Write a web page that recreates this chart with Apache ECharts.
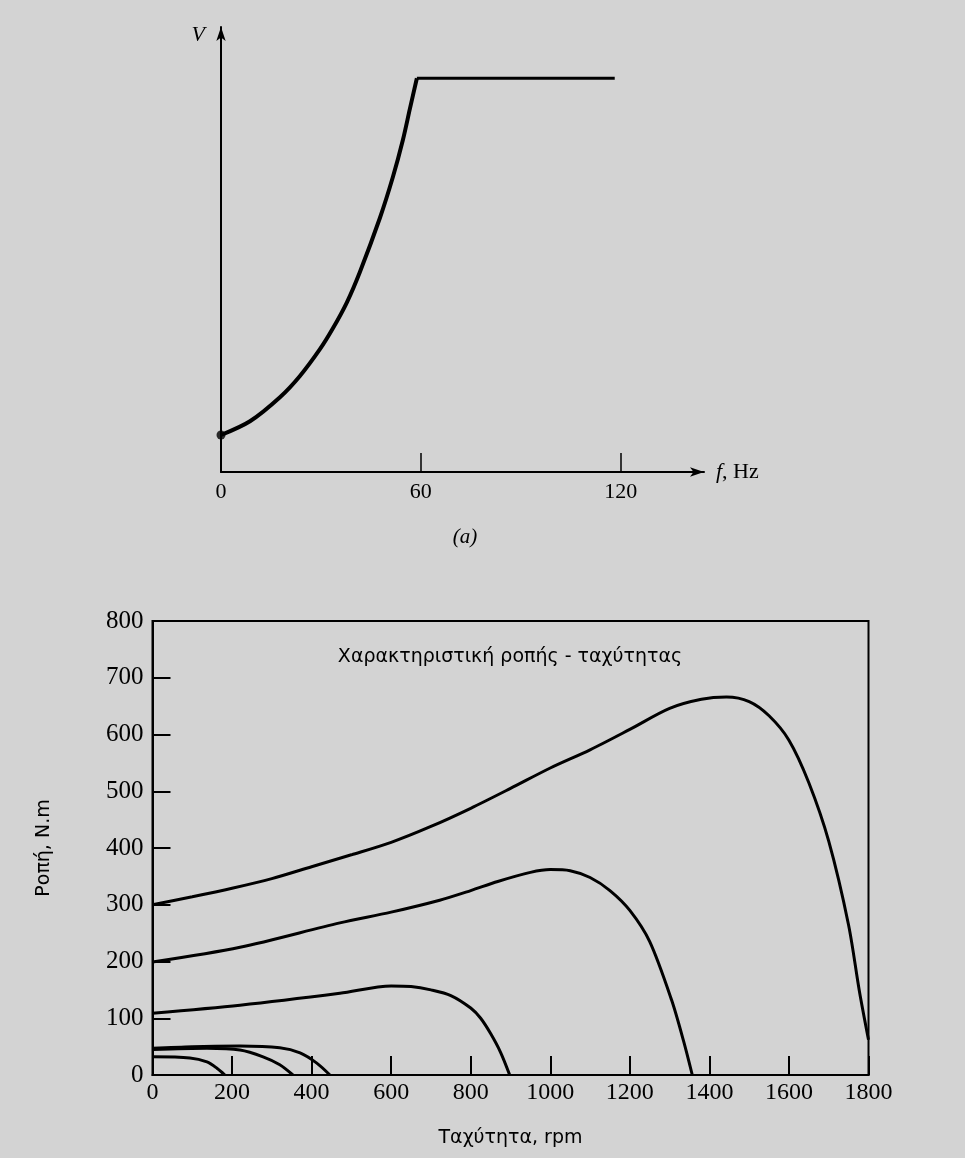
<!DOCTYPE html>
<html>
<head>
<meta charset="utf-8">
<script src="https://cdn.jsdelivr.net/npm/echarts@6/dist/echarts.min.js"></script>
<style>
html,body{margin:0;padding:0;background:#d3d3d3;}
#c{width:965px;height:1158px;}
</style>
</head>
<body>
<div id="c"></div>
<script>
// ---- (a) V/f characteristic ----
var vfFreq = [0, 8.7, 17.7, 23.7, 29.7, 33.6, 37.8, 41.7, 47.7, 51.6, 54.6, 56.7, 58.8, 118.2];
var vfVolt = [9.4, 12.9, 19.0, 24.4, 31.2, 36.5, 43.1, 50.8, 64.5, 74.9, 84.3, 92.2, 100, 100];
var vfTickLabels = [0, 60, 120];
var vfTickMarks = [60, 120];

// ---- torque-speed curves ----
var c1Speed = [0, 100, 200, 300, 400, 500, 600, 700, 800, 900, 1000, 1100, 1200, 1300, 1380, 1443, 1500, 1550, 1600, 1650, 1700, 1750, 1777, 1800];
var c1Torque = [300, 314, 329, 346, 367, 388, 410, 438, 470, 505, 541, 573, 609, 646, 662, 666, 658, 633, 590, 515, 412, 264, 148, 62];
var c2Speed = [0, 220, 471, 600, 722, 800, 868, 950, 1000, 1050, 1100, 1150, 1200, 1250, 1305, 1335, 1357];
var c2Torque = [199, 225, 268, 287, 308, 325, 341, 357, 362, 360, 348, 325, 290, 235, 132, 60, 0];
var c3Speed = [0, 220, 471, 600, 650, 700, 750, 800, 825, 850, 875, 898];
var c3Torque = [109, 123, 144, 157, 156, 150, 140, 118, 100, 73, 40, 0];
var c4Speed = [0, 100, 220, 320, 371, 413, 446];
var c4Torque = [47, 50, 51, 48, 39, 21, 0];
var c5Speed = [0, 137, 220, 278, 320, 353];
var c5Torque = [45, 47, 44, 32, 18, 0];
var c6Speed = [0, 94, 137, 162, 182];
var c6Torque = [32, 30, 23, 12, 0];

function zip(a, b) { return a.map(function (v, i) { return [v, b[i]]; }); }

var serif = 'Liberation Serif';
var sans = 'DejaVu Sans';
var vfPts = zip(vfFreq, vfVolt);
var knee = vfFreq.length - 2;
function plain(v) { return String(v); }

function tsSeries(s, t) {
  return {
    type: 'line', xAxisIndex: 1, yAxisIndex: 1, data: zip(s, t),
    smooth: 0.3, symbol: 'none',
    lineStyle: { color: '#000', width: 3 }, silent: true
  };
}

var chart = echarts.init(document.getElementById('c'), null, { renderer: 'canvas' });
chart.setOption({
  backgroundColor: '#d3d3d3',
  animation: false,
  grid: [
    { left: 221, top: 27, width: 483, height: 445 },
    { left: 152.5, top: 621, width: 716, height: 454, show: true, borderColor: '#000', borderWidth: 2, backgroundColor: 'transparent' }
  ],
  xAxis: [
    {
      gridIndex: 0, type: 'value', min: 0, max: 145,
      name: '{i|f}, Hz', nameLocation: 'end', nameGap: 12,
      nameTextStyle: { color: '#000', fontFamily: serif, fontSize: 22, verticalAlign: 'middle', align: 'left',
        rich: { i: { fontStyle: 'italic', fontFamily: serif, fontSize: 22, color: '#000' } } },
      axisLine: { show: true, symbol: ['none', 'arrow'], symbolSize: [7, 14], lineStyle: { color: '#000', width: 2 } },
      axisTick: { show: true, inside: true, length: 19, customValues: vfTickMarks, lineStyle: { color: '#000', width: 1.5 } },
      axisLabel: { customValues: vfTickLabels, formatter: plain, color: '#000', fontFamily: serif, fontSize: 22, margin: 9 },
      splitLine: { show: false }
    },
    {
      gridIndex: 1, type: 'value', min: 0, max: 1800, interval: 200,
      name: 'Ταχύτητα, rpm', nameLocation: 'middle', nameGap: 54,
      nameTextStyle: { color: '#000', fontFamily: sans, fontSize: 19 },
      axisLine: { show: true, lineStyle: { color: '#000', width: 2 } },
      axisTick: { show: true, inside: true, length: 19, lineStyle: { color: '#000', width: 2 } },
      axisLabel: { formatter: plain, color: '#000', fontFamily: serif, fontSize: 24, margin: 6 },
      splitLine: { show: false }
    }
  ],
  yAxis: [
    {
      gridIndex: 0, type: 'value', min: 0, max: 113,
      name: 'V', nameLocation: 'end', nameGap: -8,
      nameTextStyle: { color: '#000', fontFamily: serif, fontStyle: 'italic', fontSize: 22, align: 'right', verticalAlign: 'middle', padding: [0, 16, 0, 0] },
      axisLine: { show: true, symbol: ['none', 'arrow'], symbolSize: [7, 14], lineStyle: { color: '#000', width: 2 } },
      axisTick: { show: false }, axisLabel: { show: false }, splitLine: { show: false }
    },
    {
      gridIndex: 1, type: 'value', min: 0, max: 800, interval: 100,
      name: 'Ροπή, N.m', nameLocation: 'middle', nameGap: 99,
      nameTextStyle: { color: '#000', fontFamily: sans, fontSize: 19 },
      axisLine: { show: true, lineStyle: { color: '#000', width: 2 } },
      axisTick: { show: true, inside: true, length: 18, lineStyle: { color: '#000', width: 2 } },
      axisLabel: { formatter: plain, color: '#000', fontFamily: serif, fontSize: 25, margin: 9 },
      splitLine: { show: false }
    }
  ],
  graphic: [
    { type: 'text', x: 465, y: 537, style: { text: '(a)', font: 'italic 21px "Liberation Serif"', fill: '#000', align: 'center', verticalAlign: 'middle' } },
    { type: 'text', x: 510, y: 657, style: { text: 'Χαρακτηριστική ροπής - ταχύτητας', font: '19px "DejaVu Sans"', fill: '#000', align: 'center', verticalAlign: 'middle' } }
  ],
  series: [
    { type: 'line', xAxisIndex: 0, yAxisIndex: 0, data: vfPts.slice(0, knee + 1), smooth: 0.3, symbol: 'none', lineStyle: { color: '#000', width: 4 } },
    { type: 'line', xAxisIndex: 0, yAxisIndex: 0, data: vfPts.slice(knee), symbol: 'none', lineStyle: { color: '#000', width: 3 } },
    { type: 'scatter', xAxisIndex: 0, yAxisIndex: 0, data: [vfPts[0]], symbol: 'circle', symbolSize: 9, itemStyle: { color: '#000' } },
    tsSeries(c1Speed, c1Torque),
    tsSeries(c2Speed, c2Torque),
    tsSeries(c3Speed, c3Torque),
    tsSeries(c4Speed, c4Torque),
    tsSeries(c5Speed, c5Torque),
    tsSeries(c6Speed, c6Torque)
  ]
});
</script>
</body>
</html>
